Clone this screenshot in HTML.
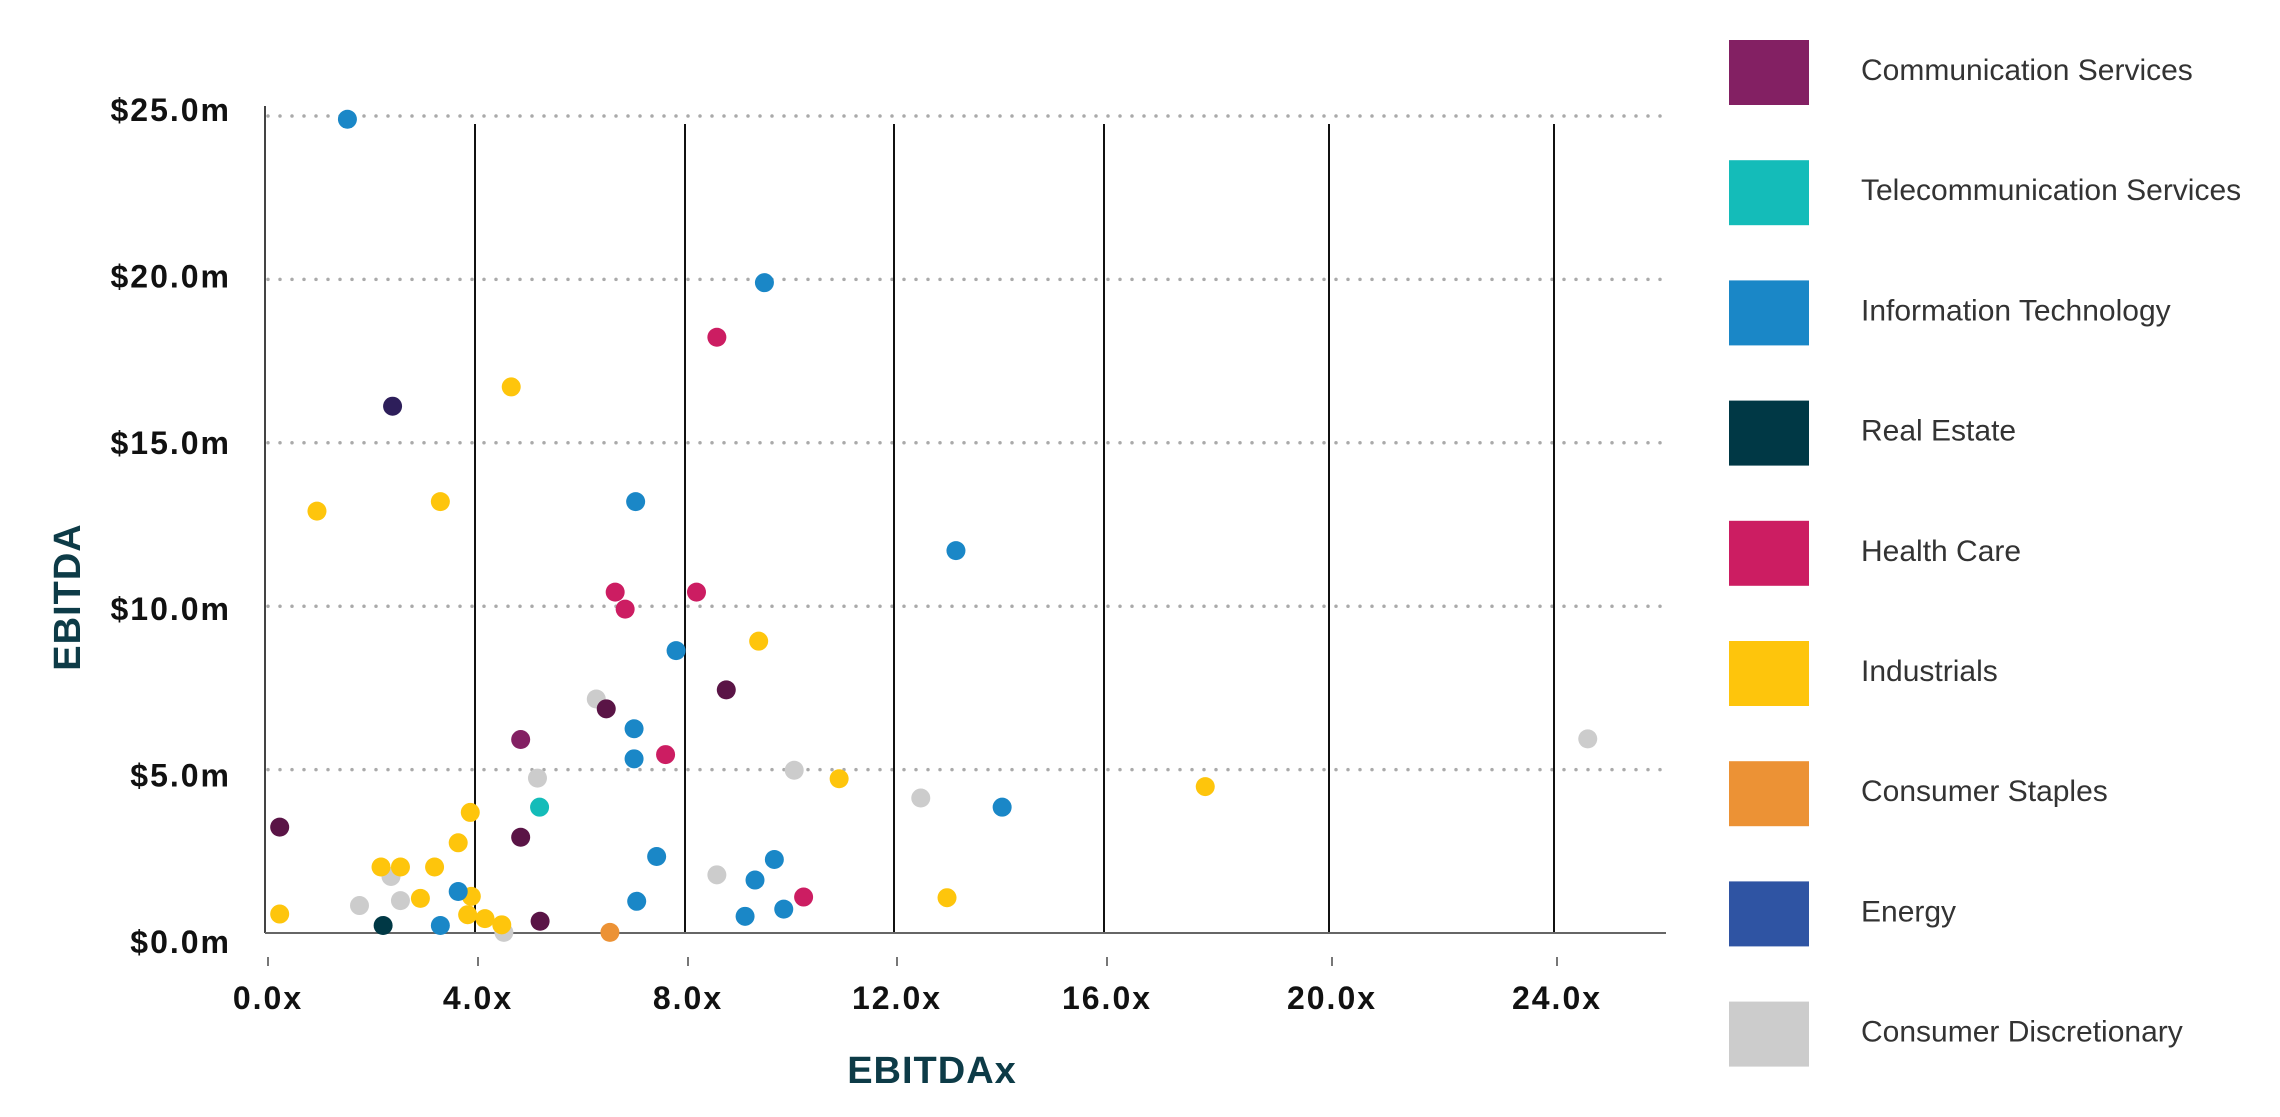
<!DOCTYPE html>
<html><head><meta charset="utf-8"><style>
html,body{margin:0;padding:0;background:#fff;}
svg{display:block;font-family:"Liberation Sans",sans-serif;}
</style></head><body>
<svg id="chart" width="2280" height="1117" viewBox="0 0 2280 1117" xmlns="http://www.w3.org/2000/svg">
<g id="grid"></g>
<g id="axes"></g>
<g id="points"></g>
<g id="legend"></g>
<text x="932" y="1083" text-anchor="middle" font-size="38" font-weight="bold" letter-spacing="1" fill="#0d3b47">EBITDAx</text>
<text transform="translate(80,597) rotate(-90)" text-anchor="middle" font-size="38" font-weight="bold" letter-spacing="1" fill="#0d3b47">EBITDA</text>
</svg>
<script>
const xTicks = [0,4,8,12,16,20,24];
const xTickLabels = ["0.0x","4.0x","8.0x","12.0x","16.0x","20.0x","24.0x"];
const yTicks = [0,5,10,15,20,25];
const yTickLabels = ["$0.0m","$5.0m","$10.0m","$15.0m","$20.0m","$25.0m"];
const categories = ["Communication Services","Telecommunication Services","Information Technology","Real Estate","Health Care","Industrials","Consumer Staples","Energy","Consumer Discretionary"];
const categoryColors = ["#832063","#14bcb9","#1a87c7","#003845","#cc1d62","#fec50c","#ec9235","#2f54a3","#cccccc"];
const commX = [4.87,6.5,8.79,0.28,4.87,5.24,2.43];
const commY = [5.92,6.86,7.44,3.24,2.93,0.36,16.12];
const commShade = ["#832063","#5a1446","#5a1446","#5a1446","#5a1446","#5a1446","#2d1e5a"];
const telecomX = [5.23];
const telecomY = [3.85];
const itX = [1.57,9.52,7.06,13.18,7.83,7.03,7.03,14.06,7.46,9.71,9.34,3.68,7.08,9.89,9.15,3.34];
const itY = [24.9,19.9,13.2,11.7,8.64,6.25,5.33,3.85,2.34,2.25,1.62,1.27,0.97,0.73,0.51,0.23];
const reX = [2.25];
const reY = [0.23];
const hcX = [8.61,6.67,8.22,6.86,7.63,10.27];
const hcY = [18.23,10.43,10.43,9.91,5.46,1.1];
const indX = [4.69,0.99,3.34,9.41,10.95,3.91,3.68,2.21,2.58,3.23,2.96,3.93,3.86,4.19,4.51,0.28,13.01,17.8];
const indY = [16.71,12.91,13.2,8.93,4.72,3.69,2.76,2.02,2.02,2.02,1.06,1.12,0.56,0.44,0.25,0.58,1.08,4.48];
const csX = [6.57];
const csY = [0.02];
const cdX = [6.31,5.19,10.09,12.51,8.61,2.4,1.8,2.58,4.55,24.6];
const cdY = [7.16,4.74,4.98,4.13,1.78,1.73,0.84,0.99,0.02,5.94];

const NS="http://www.w3.org/2000/svg";
const xPix=[265,475,685,894,1104,1329,1554];
function xScale(v){
  let i=Math.min(Math.max(Math.floor(v/4),0),5);
  return xPix[i]+(v-i*4)/4*(xPix[i+1]-xPix[i]);
}
function yScale(v){return 933-v/25*817;}
function mk(tag,attrs,parent){const e=document.createElementNS(NS,tag);for(const k in attrs)e.setAttribute(k,attrs[k]);parent.appendChild(e);return e;}
const grid=document.getElementById('grid'),axes=document.getElementById('axes'),pts=document.getElementById('points'),leg=document.getElementById('legend');

yTicks.forEach((t,i)=>{
  if(t>0){
    const l=mk('line',{x1:268,x2:1666,y1:yScale(t),y2:yScale(t),stroke:'#aaaaaa','stroke-width':3.5,'stroke-linecap':'round','stroke-dasharray':'0 12'},grid);
    
    
  }
  const off = -6 + (25-t)/25*15;
  const tx=mk('text',{x:231,y:yScale(t)+11+off,'text-anchor':'end','font-size':32,'font-weight':'bold','letter-spacing':2,fill:'#111'},axes);
  tx.textContent=yTickLabels[i];
  
  
});
xTicks.forEach((t,i)=>{
  if(t>0){
    const l=mk('line',{x1:xScale(t),x2:xScale(t),y1:124,y2:933,stroke:'#111','stroke-width':2},grid);
    
    
  }
  const tk=mk('line',{x1:xScale(t)+3,x2:xScale(t)+3,y1:957,y2:966,stroke:'#777','stroke-width':2},axes);
  
  
  const tx=mk('text',{x:xScale(t)+3,y:1009,'text-anchor':'middle','font-size':32,'font-weight':'bold','letter-spacing':2,fill:'#111'},axes);
  tx.textContent=xTickLabels[i];
  
  
});
const ya=mk('line',{x1:265,x2:265,y1:106,y2:933,stroke:'#444','stroke-width':2},axes);


const xa=mk('line',{x1:265,x2:1666,y1:933,y2:933,stroke:'#666','stroke-width':2},axes);



function drawSeries(xs,ys,color,shades){
  xs.forEach((x,i)=>{
    const c=mk('circle',{cx:xScale(x),cy:yScale(ys[i]),r:9.5,fill:shades?shades[i]:color},pts);
    
    
  });
}
drawSeries(cdX,cdY,categoryColors[8]);
drawSeries(indX,indY,categoryColors[5]);
drawSeries(itX,itY,categoryColors[2]);
drawSeries(hcX,hcY,categoryColors[4]);
drawSeries(commX,commY,null,commShade);
drawSeries(telecomX,telecomY,categoryColors[1]);
drawSeries(reX,reY,categoryColors[3]);
drawSeries(csX,csY,categoryColors[6]);

categories.forEach((c,i)=>{
  const top=40+i*120.2;
  const g=mk('g',{},leg);
  
  
  const r=mk('rect',{x:1729,y:top,width:80,height:65,fill:categoryColors[i]},g);
  
  
  const t=mk('text',{x:1861,y:top+40,'font-size':30,fill:'#333'},g);
  t.textContent=c;
  
  
});
</script>
</body></html>
